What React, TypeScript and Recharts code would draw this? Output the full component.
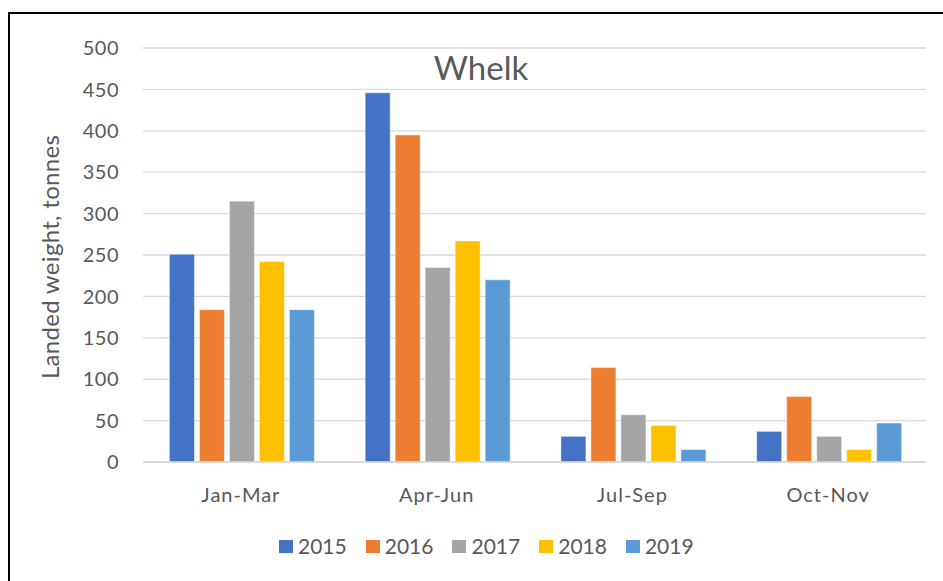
// App.tsx — Whelk landings by quarter (Recharts)
import { BarChart, Bar, XAxis, YAxis, CartesianGrid, Legend } from "recharts";

const categories = ["Jan-Mar", "Apr-Jun", "Jul-Sep", "Oct-Nov"];
const years = ["2015", "2016", "2017", "2018", "2019"];
const colors = ["#4472C4", "#ED7D31", "#A5A5A5", "#FFC000", "#5B9BD5"];

const w2015 = [251, 446, 31, 37];
const w2016 = [184, 395, 114, 79];
const w2017 = [315, 235, 57, 31];
const w2018 = [242, 267, 44, 15];
const w2019 = [184, 220, 15, 47];
const yTicks = [0, 50, 100, 150, 200, 250, 300, 350, 400, 450, 500];

const series = [w2015, w2016, w2017, w2018, w2019];

const data = categories.map((c, i) => {
  const row: Record<string, string | number> = { quarter: c };
  years.forEach((y, k) => {
    row[y] = series[k][i];
  });
  return row;
});

const FONT = "Lato, 'Open Sans', sans-serif";
const TXT = "#595959";

// 底部圖例
function LegendBox() {
  return (
    <div style={{ display: "flex", alignItems: "center", height: 24, fontFamily: FONT }}>
      {years.map((y, k) => (
        <div key={y} style={{ display: "flex", alignItems: "center", marginRight: 19 }}>
          <span style={{ width: 14, height: 13, background: colors[k], display: "inline-block", marginRight: 5 }} />
          <span style={{ fontSize: 21, color: TXT, lineHeight: "24px" }}>{y}</span>
        </div>
      ))}
    </div>
  );
}

function YLabel(props: any) {
  const vb = props.viewBox || { y: 48, height: 414 };
  const cy = vb.y + vb.height / 2 + 2;
  return (
    <text
      x={49}
      y={cy}
      transform={`rotate(-90, 49, ${cy})`}
      textAnchor="middle"
      dominantBaseline="central"
      fill={TXT}
      fontSize={24}
      letterSpacing={0.3}
      fontFamily={FONT}
    >
      Landed weight, tonnes
    </text>
  );
}

export default function App() {
  return (
    <div style={{ position: "fixed", left: 0, top: 0, width: 943, height: 581, background: "#fff" }}>
      {/* 外框（只看得到左、上兩邊） */}
      <div
        style={{
          position: "absolute",
          left: 8,
          top: 12,
          right: -10,
          bottom: -10,
          borderLeft: "2px solid #000",
          borderTop: "2px solid #000",
        }}
      />
      <BarChart
        width={943}
        height={581}
        data={data}
        margin={{ top: 48, right: 17, left: 0, bottom: 23 }}
        barCategoryGap="13.5%"
        barGap={5}
        style={{ position: "absolute", left: 0, top: 0 }}
      >
        <CartesianGrid vertical={false} stroke="#D9D9D9" strokeWidth={1.3} />
        <XAxis
          dataKey="quarter"
          height={72}
          axisLine={{ stroke: "#D9D9D9", strokeWidth: 1.3 }}
          tickLine={false}
          tickSize={0}
          tickMargin={26}
          tick={{ fontSize: 20, fill: TXT, fontFamily: FONT, letterSpacing: 1 }}
        />
        <YAxis
          width={143}
          domain={[0, 500]}
          ticks={yTicks}
          axisLine={false}
          tickLine={false}
          tickSize={0}
          tickMargin={24}
          tick={{ fontSize: 20, fill: TXT, fontFamily: FONT, letterSpacing: 0.5 }}
          label={{ content: YLabel }}
        />
        <Legend
          verticalAlign="bottom"
          content={() => <LegendBox />}
          wrapperStyle={{ left: 279, width: "auto" }}
        />
        {years.map((y, k) => (
          <Bar
            key={y}
            dataKey={y}
            fill={colors[k]}
            stroke="#ffffff"
            strokeOpacity={0.45}
            strokeWidth={1}
            isAnimationActive={false}
          />
        ))}
      </BarChart>
      <div
        style={{
          position: "absolute",
          left: 381,
          width: 200,
          top: 46,
          textAlign: "center",
          fontFamily: FONT,
          fontSize: 33,
          lineHeight: "42px",
          color: TXT,
        }}
      >
        Whelk
      </div>
    </div>
  );
}
